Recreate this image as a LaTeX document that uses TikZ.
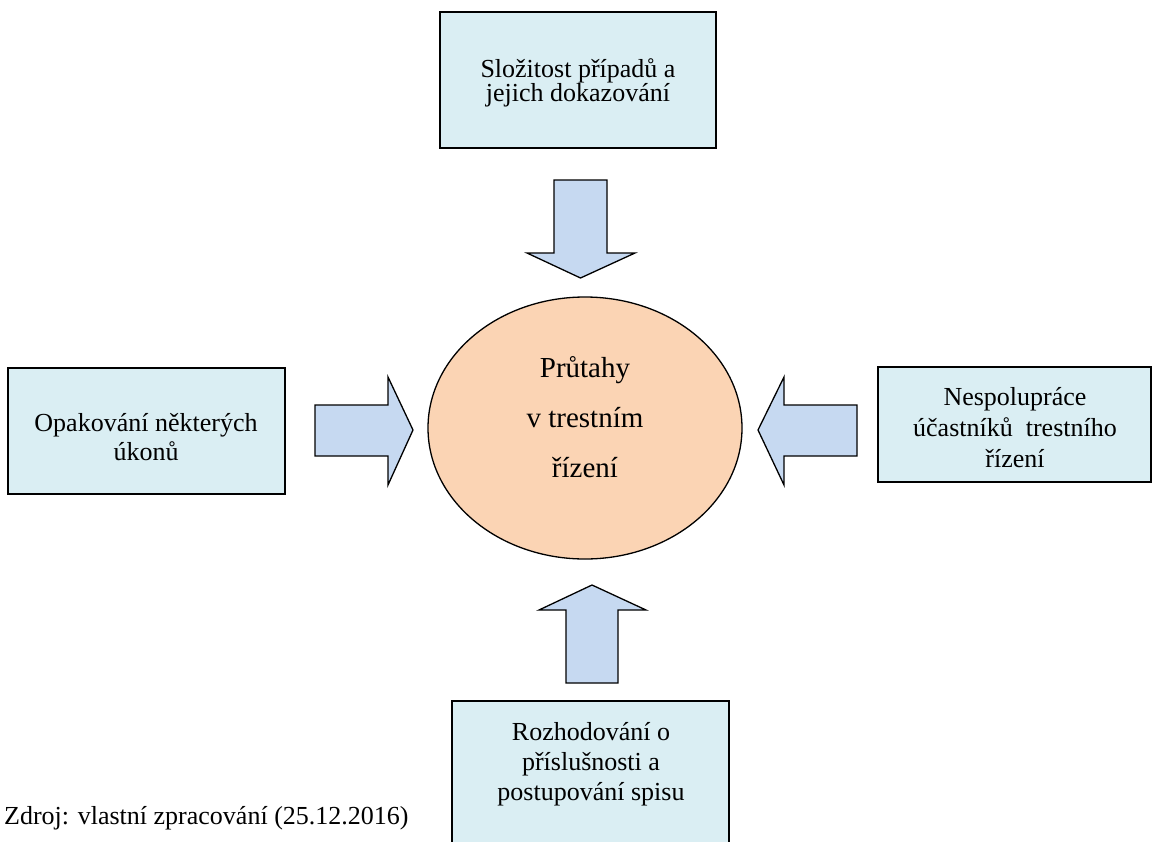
\documentclass[tikz,border=0pt]{standalone}
\usepackage{fontspec}
\setmainfont{Liberation Serif}
\usetikzlibrary{shapes.geometric}
\definecolor{boxfill}{HTML}{DAEEF3}
\definecolor{arrfill}{HTML}{C6D9F1}
\definecolor{ellfill}{HTML}{FBD4B4}
\begin{document}
\begin{tikzpicture}[x=1pt,y=-1pt,
  infobox/.style={draw=black, line width=1.6pt, fill=boxfill, minimum width=276, inner sep=0pt},
  boxtext/.style={align=center, font=\fontsize{26}{30}\selectfont, inner sep=0pt},
  blockarrow/.style={draw=black, line width=1.3pt, fill=arrfill, line join=miter},
  centre/.style={draw=black, line width=1.3pt, fill=ellfill, ellipse, inner sep=0pt, minimum width=314, minimum height=262}
]
\useasboundingbox (0,0) rectangle (1154,841);
\clip (0,0) rectangle (1154,841);

% boxes
\node[infobox, minimum height=136] (topbox) at (578,80) {};
\node[infobox, minimum width=277, minimum height=126] (leftbox) at (146.5,431) {};
\node[infobox, minimum width=273, minimum height=115] (rightbox) at (1014.5,424.5) {};
\node[infobox, minimum width=277, minimum height=200] (bottombox) at (590.5,801) {};

% ellipse
\node[centre] (core) at (585,428) {};

% texts
\node[boxtext, font=\fontsize{26}{24}\selectfont] (toptext) at (578,83) {Složitost případů a\\jejich dokazování};
\node[boxtext, font=\fontsize{26}{29}\selectfont] (lefttext) at (146,437) {Opakování některých\\úkonů};
\node[boxtext, font=\fontsize{26}{31}\selectfont] (righttext) at (1015,428) {Nespolupráce\\účastníků\ \ trestního\\řízení};
\node[boxtext, font=\fontsize{26}{30}\selectfont] (bottomtext) at (591,764) {Rozhodování o\\příslušnosti a\\postupování spisu};
\node[boxtext, font=\fontsize{29}{50}\selectfont] (coretext) at (585,417) {Průtahy\\v trestním\\řízení};
\node[anchor=base west, inner sep=0pt, font=\fontsize{26}{30}\selectfont] (source) at (4,824) {Zdroj: vlastní zpracování (25.12.2016)};

% block arrows
\draw[blockarrow] (554,180) -- (607,180) -- (607,253) -- (635,253) -- (580.5,278) -- (527,253) -- (554,253) -- cycle;
\draw[blockarrow] (566,683) -- (618,683) -- (618,610) -- (646,610) -- (592,585) -- (539,610) -- (566,610) -- cycle;
\draw[blockarrow] (315,405) -- (388,405) -- (388,377) -- (413,430) -- (388,485) -- (388,456) -- (315,456) -- cycle;
\draw[blockarrow] (857,405) -- (784,405) -- (784,377) -- (758,430) -- (784,485) -- (784,456) -- (857,456) -- cycle;
\end{tikzpicture}
\end{document}
